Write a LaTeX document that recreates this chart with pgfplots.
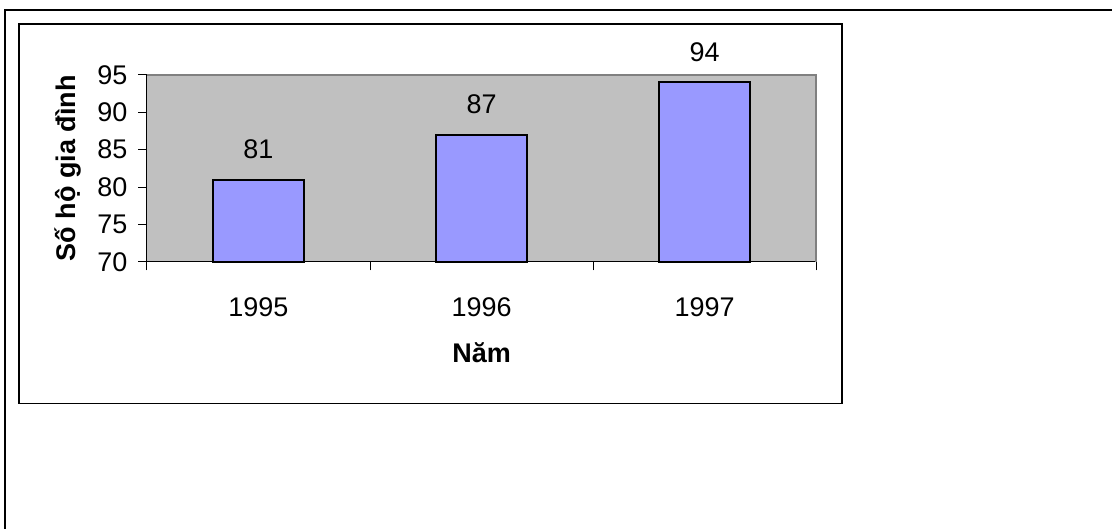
\documentclass[border=0pt]{standalone}
\usepackage{fontspec}
\setmainfont{Liberation Sans}
\usepackage{pgfplots}
\pgfplotsset{compat=1.18}
\definecolor{plotgray}{HTML}{C0C0C0}
\definecolor{bordergray}{HTML}{808080}
\definecolor{barblue}{HTML}{9999FF}
\begin{document}
\begin{tikzpicture}[font=\fontsize{13.5}{16}\selectfont]
\path[fill=white] (0,0) rectangle (556.5pt,264.5pt);
\draw[line width=1pt] (2.5pt,0) -- (2.5pt,259.5pt) -- (556.5pt,259.5pt);
\draw[line width=0.8pt] (9.5pt,62.5pt) rectangle (421.5pt,252.5pt);
\begin{axis}[
  at={(73.5pt,133.5pt)}, anchor=south west,
  scale only axis, width=335pt, height=93.5pt,
  xmin=-0.5, xmax=2.5, ymin=70, ymax=95,
  /pgf/number format/assume math mode=true,
  axis lines=left,
  axis line style={-, black, line width=0.5pt},
  axis background/.style={fill=plotgray},
  tick align=outside,
  major tick length=4.25pt,
  tick style={black, line width=0.5pt},
  ytick={70,75,...,95},
  xtick={-0.5,0.5,1.5,2.5},
  xticklabels={},
  extra x ticks={0,1,2},
  extra x tick labels={1995,1996,1997},
  extra x tick style={major tick length=0pt, tick style={draw=none}},
  x tick label style={anchor=center, yshift=-22.5pt},
  y tick label style={anchor=east, xshift=-2pt},
  xlabel={\bfseries Năm},
  ylabel={\bfseries Số hộ gia đình},
  xlabel style={at={(axis description cs:0.5,-0.487)}, anchor=center},
  ylabel style={at={(axis description cs:-0.118,0.5)}, anchor=center},
  clip=false,
]
\addplot[ybar, bar width=45.5pt, fill=barblue, draw=black, line width=1pt,
  nodes near coords,
  every node near coord/.append style={anchor=south, inner sep=0pt, yshift=10pt, text=black}]
  coordinates {(0,81) (1,87) (2,94)};
\draw[bordergray, line width=1pt] (rel axis cs:0,1) -- (rel axis cs:1,1) -- (rel axis cs:1,0);
\end{axis}
\end{tikzpicture}
\end{document}
